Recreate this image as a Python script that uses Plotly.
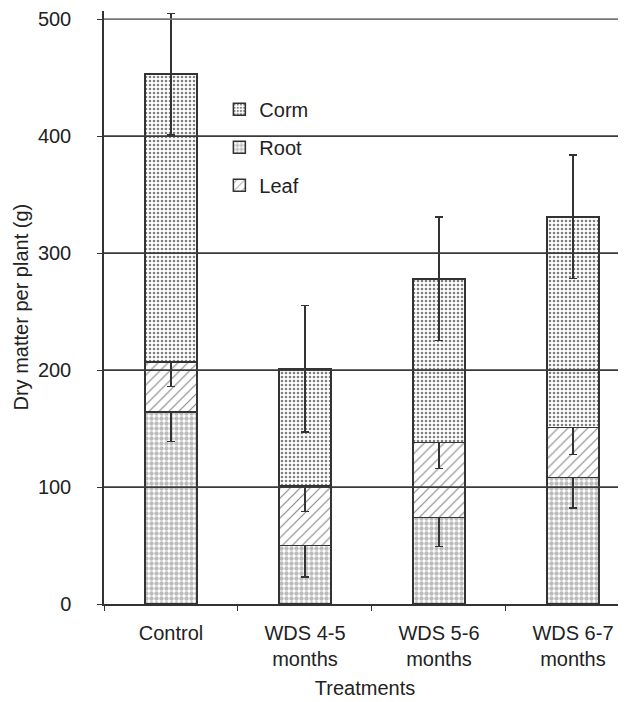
import plotly.graph_objects as go

# ---- data ----
categories = ["Control", "WDS 4-5<br>months", "WDS 5-6<br>months", "WDS 6-7<br>months"]
root = [164, 50, 74, 108]
leaf = [43, 51, 64, 43]
corm = [246, 100, 140, 180]
root_err = [25, 27, 25, 26]
leaf_err = [21, 22, 22, 23]
corm_err = [52, 54, 53, 53]
y_ticks = [0, 100, 200, 300, 400, 500]

FONT = "Liberation Sans, Arial, sans-serif"
TXT = "#222222"
EDGE = "#333333"

def bar(name, vals, errs, pattern, rank):
    return go.Bar(
        name=name, x=categories, y=vals, width=0.39,
        legendgroup=name, legendrank=rank,
        marker=dict(color="white", line=dict(color=EDGE, width=1.5), pattern=pattern),
        error_y=dict(type="data", array=errs, visible=True, color=EDGE, thickness=1.3, width=4),
    )

fig = go.Figure()
fig.add_trace(bar("Root", root, root_err,
                  dict(shape=".", fgcolor="#777777", bgcolor="white", size=5, solidity=0.6, fillmode="overlay"), 2))
fig.add_trace(bar("Leaf", leaf, leaf_err,
                  dict(shape="/", fgcolor="#111111", bgcolor="white", size=7, solidity=0.17, fillmode="overlay"), 3))
fig.add_trace(bar("Corm", corm, corm_err,
                  dict(shape=".", fgcolor="#000000", bgcolor="white", size=4, solidity=0.33, fillmode="overlay"), 1))

# horizontal grid lines drawn above the bars, at the tick values
for t in y_ticks[1:]:
    fig.add_shape(type="line", xref="paper", x0=0, x1=1, yref="y", y0=t, y1=t,
                  line=dict(color="#3a3a3a" if t < 500 else "#777777", width=1.7), layer="above")

# y-axis title as a rotated text annotation
fig.add_annotation(text="Dry matter per plant (g)", textangle=-90,
                   xref="paper", yref="paper", x=0, y=0.5, xshift=-84,
                   xanchor="center", yanchor="middle", showarrow=False,
                   font=dict(size=20, color=TXT))

# the page body adds an 8px margin, so the figure is 8px smaller than the window
fig.update_layout(
    width=618, height=694,
    margin=dict(l=96, r=0, t=3, b=98),
    barmode="stack",
    plot_bgcolor="white", paper_bgcolor="white",
    font=dict(family=FONT, size=20, color=TXT),
    showlegend=True,
    legend=dict(x=0.221, y=0.867, xanchor="left", yanchor="top",
                traceorder="grouped", tracegroupgap=9,
                bgcolor="rgba(0,0,0,0)", font=dict(size=20, color=TXT)),
    xaxis=dict(
        type="category", range=[-0.5, 3.396], automargin=False,
        showline=True, linecolor=EDGE, linewidth=1.5,
        ticks="outside", tickson="boundaries", ticklen=5, tickcolor=EDGE,
        showgrid=False,
        ticklabelstandoff=10,
        title=dict(text="Treatments", standoff=12, font=dict(size=20)),
        tickfont=dict(size=20),
    ),
    yaxis=dict(
        range=[0, 507], tickvals=y_ticks, ticktext=[str(v) for v in y_ticks],
        automargin=False,
        showline=True, linecolor=EDGE, linewidth=1.5,
        ticks="outside", ticklen=5, tickcolor=EDGE,
        showgrid=False, zeroline=False,
        ticklabelstandoff=22,
        tickfont=dict(size=20),
    ),
)

fig.write_html("out.html")
